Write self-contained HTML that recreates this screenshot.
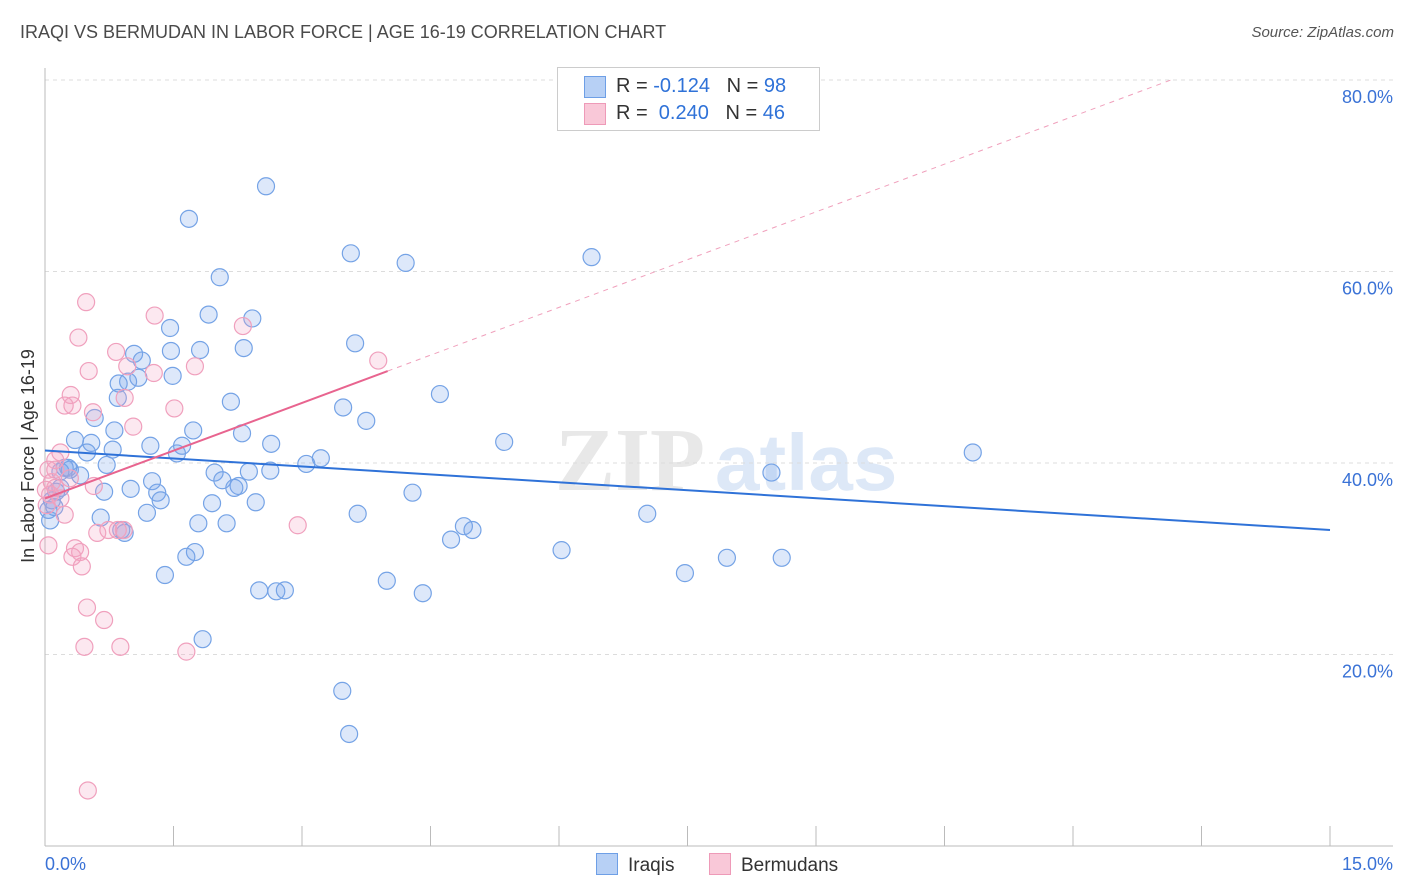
<!DOCTYPE html>
<html><head><meta charset="utf-8">
<style>
body{margin:0;background:#fff;font-family:"Liberation Sans",sans-serif;}
#wrap{position:relative;width:1406px;height:892px;overflow:hidden;}
.t{position:absolute;white-space:nowrap;}
</style></head>
<body>
<div id="wrap">
<div class="t" style="left:20px;top:22px;font-size:18px;color:#4a4a4a;">IRAQI VS BERMUDAN IN LABOR FORCE | AGE 16-19 CORRELATION CHART</div>
<div class="t" style="right:12px;top:24px;font-size:15px;color:#555;font-style:italic;">Source: ZipAtlas.com</div>
<svg id="svg" width="1406" height="892" style="position:absolute;left:0;top:0"></svg>
</div>
<script>
const xTicks=[0,1.5,3,4.5,6,7.5,9,10.5,12,13.5,15];
const yTicks=[20,40,60,80];
const yTickLabels=["20.0%","40.0%","60.0%","80.0%"];
const iraqiX=[2.58,1.68,3.57,4.21,6.38,2.04,1.91,2.42,1.46,1.47,1.81,2.32,3.62,1.04,1.13,1.49,1.09,0.97,0.86,0.85,2.17,3.48,4.61,3.75,0.58,0.81,1.73,2.30,1.23,1.60,1.54,0.35,0.54,0.49,0.79,2.64,5.36,10.83,3.22,3.05,0.72,0.23,0.29,0.41,0.18,1.98,2.38,2.63,8.48,2.07,2.26,2.21,1.25,1.00,0.69,1.31,1.35,1.95,2.46,4.29,0.13,0.08,0.11,1.19,3.65,7.03,0.65,2.12,1.79,4.89,4.99,0.89,0.93,4.74,6.03,1.75,1.65,7.96,8.60,1.40,7.47,3.99,2.50,2.70,2.80,4.41,1.84,3.47,3.55,0.04,0.06,0.18,0.27];
const iraqiY=[68.9,65.5,61.9,60.9,61.5,59.4,55.5,55.1,54.1,51.7,51.8,52.0,52.5,51.4,50.7,49.1,48.9,48.5,48.3,46.8,46.4,45.8,47.2,44.4,44.7,43.4,43.4,43.1,41.8,41.8,41.0,42.4,42.1,41.1,41.4,42.0,42.2,41.1,40.5,39.9,39.8,39.5,39.3,38.7,39.1,39.0,39.1,39.2,39.0,38.2,37.6,37.4,38.1,37.3,37.0,36.9,36.1,35.8,35.9,36.9,37.0,36.1,35.4,34.8,34.7,34.7,34.3,33.7,33.7,33.4,33.0,33.0,32.7,32.0,30.9,30.7,30.2,30.1,30.1,28.3,28.5,27.7,26.7,26.6,26.7,26.4,21.6,16.2,11.7,35.1,34.0,37.4,39.5];
const bermX=[0.48,1.28,0.39,2.31,0.83,3.89,1.75,0.51,0.96,1.27,0.30,0.32,0.23,0.56,0.93,1.51,1.03,0.18,0.12,0.04,0.08,0.57,0.12,0.06,0.02,0.23,0.92,0.85,0.61,0.74,2.95,0.35,0.41,0.32,0.43,0.49,0.69,0.46,0.88,1.65,0.50,0.04,0.01,0.18,0.29,0.12];
const bermY=[56.8,55.4,53.1,54.3,51.6,50.7,50.1,49.6,50.1,49.4,47.1,46.0,46.0,45.3,46.8,45.7,43.8,41.1,40.3,39.3,38.0,37.6,37.4,36.7,35.6,34.6,33.0,33.0,32.7,33.0,33.5,31.1,30.7,30.2,29.2,24.9,23.6,20.8,20.8,20.3,5.8,31.4,37.2,36.3,38.4,39.3];
const iraqiTrend=[41.3,-0.553];
const bermTrend=[36.3,3.325];
const bermSolidEnd=4.0;

const X0=45,X1=1330,Y0=846;
const xs=v=>X0+(X1-X0)*v/15;
const ys=v=>Y0-(Y0-80)*v/80;
const svg=document.getElementById('svg');
const NS='http://www.w3.org/2000/svg';
function mk(t,a){const e=document.createElementNS(NS,t);for(const k in a)e.setAttribute(k,a[k]);svg.appendChild(e);return e;}

let wm=mk('text',{x:555,y:490,'font-size':90,'font-family':'Liberation Serif,serif',fill:'#e8e8e8','font-weight':'bold'});wm.textContent='ZIP';


let wm2=mk('text',{x:715,y:490,'font-size':80,'font-family':'Liberation Sans,sans-serif',fill:'#dde8f7','font-weight':'bold'});wm2.textContent='atlas';



yTicks.forEach((v,i)=>{
  const g=mk('line',{x1:X0,x2:1393,y1:ys(v),y2:ys(v),stroke:'#dcdcdc','stroke-dasharray':'4,4'});
  
  
  const t=mk('text',{x:1393,y:ys(v)+23,'text-anchor':'end','font-size':18,fill:'#3a72d6','font-family':'Liberation Sans,sans-serif'});
  t.textContent=yTickLabels[i];
  
  
});
mk('line',{x1:X0,x2:X0,y1:68,y2:Y0,stroke:'#bbb'});
mk('line',{x1:X0,x2:1393,y1:Y0,y2:Y0,stroke:'#bbb'});
xTicks.forEach(v=>{
  const l=mk('line',{x1:xs(v),x2:xs(v),y1:826,y2:Y0,stroke:'#bbb'});
  
  
});
let xl=mk('text',{x:45,y:870,'font-size':18,fill:'#3a72d6','font-family':'Liberation Sans,sans-serif'});xl.textContent='0.0%';

let xr=mk('text',{x:1393,y:870,'text-anchor':'end','font-size':18,fill:'#3a72d6','font-family':'Liberation Sans,sans-serif'});xr.textContent='15.0%';

let yt=mk('text',{x:34,y:456,'text-anchor':'middle','font-size':18,fill:'#333','font-family':'Liberation Sans,sans-serif',transform:'rotate(-90 34 456)'});yt.textContent='In Labor Force | Age 16-19';



iraqiX.forEach((x,i)=>{
  const c=mk('circle',{cx:xs(x),cy:ys(iraqiY[i]),r:8.5,fill:'rgba(120,165,235,0.25)',stroke:'#75a3e6','stroke-width':1.2});
  
  
});
bermX.forEach((x,i)=>{
  const c=mk('circle',{cx:xs(x),cy:ys(bermY[i]),r:8.5,fill:'rgba(245,165,195,0.25)',stroke:'#f0a0bd','stroke-width':1.2});
  
  
});
let tl=mk('line',{x1:xs(0),y1:ys(iraqiTrend[0]),x2:xs(15),y2:ys(iraqiTrend[0]+iraqiTrend[1]*15),stroke:'#2f72d8','stroke-width':2});


let xEnd=(80-bermTrend[0])/bermTrend[1];
let bd=mk('line',{x1:xs(bermSolidEnd),y1:ys(bermTrend[0]+bermTrend[1]*bermSolidEnd),x2:xs(xEnd),y2:ys(80),stroke:'#f0a0bc','stroke-width':1,'stroke-dasharray':'5,5'});


let bs=mk('line',{x1:xs(0),y1:ys(bermTrend[0]),x2:xs(bermSolidEnd),y2:ys(bermTrend[0]+bermTrend[1]*bermSolidEnd),stroke:'#e8648f','stroke-width':2});


</script>
<div class="t" style="left:557px;top:67px;width:261px;height:62px;border:1px solid #ccc;background:#fff;font-size:20px;">
 <div style="position:absolute;left:26px;top:8px;width:20px;height:20px;background:#b7d0f5;border:1px solid #6e9fe6;"></div>
 <div class="t" style="left:58px;top:7px;color:#333;">R = <span style="color:#2f72d8">-0.124</span>&nbsp;&nbsp;&nbsp;N = <span style="color:#2f72d8">98</span></div>
 <div style="position:absolute;left:26px;top:35px;width:20px;height:20px;background:#f9c8d8;border:1px solid #ee9ab8;"></div>
 <div class="t" style="left:58px;top:34px;color:#333;">R = &nbsp;<span style="color:#2f72d8">0.240</span>&nbsp;&nbsp;&nbsp;N = <span style="color:#2f72d8">46</span></div>
</div>
<div class="t" style="left:596px;top:853px;font-size:19px;color:#333;"><span style="display:inline-block;width:20px;height:20px;background:#b7d0f5;border:1px solid #6e9fe6;vertical-align:-4px;margin-right:10px;"></span>Iraqis</div>
<div class="t" style="left:709px;top:853px;font-size:19px;color:#333;"><span style="display:inline-block;width:20px;height:20px;background:#f9c8d8;border:1px solid #ee9ab8;vertical-align:-4px;margin-right:10px;"></span>Bermudans</div>
</body></html>
